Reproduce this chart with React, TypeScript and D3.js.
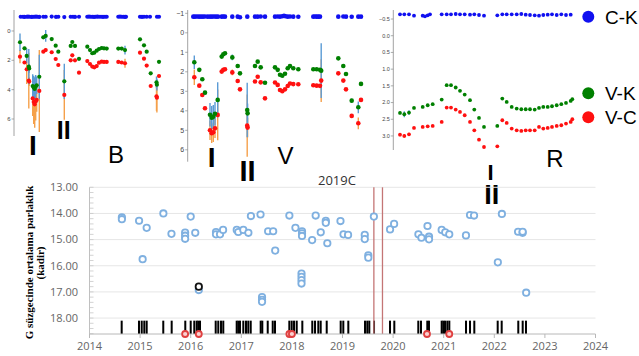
import React from 'react'
import * as d3 from 'd3'

// ---------- top panels: colour indices (mag), time in arbitrary day units ----------
// B band
const bT = [6, 10.5, 12.7, 14.8, 15.2, 18.7, 19.7, 20.7, 21.7, 22.7, 25.3, 29.3, 31.7, 37.7, 41.7, 44.3, 50.3, 56.7, 58.3, 61, 65, 73.3, 76, 78.3, 80.3, 82.7, 85, 87.7, 90, 92.7, 104.3, 107.7, 111, 126, 130, 132.7, 136.7, 142.5, 142.9, 145]
const bVK = [0.77, 1.18, 1.7, 2.43, 2.55, 3.75, 3.85, 3.95, 3.8, 3.7, 3.12, 0.43, 0.34, 0.55, 1.0, 1.41, 3.43, 1.02, 0.75, 1.02, 1.9, 1.07, 1.3, 1.52, 1.48, 1.34, 1.23, 1.16, 1.18, 1.2, 1.2, 1.2, 1.3, 0.57, 0.98, 1.41, 2.89, 3.5, 3.66, 2.1]
const bVC = [1.75, 2.15, 2.61, 3.38, 3.45, 4.6, 4.85, 5.0, 4.8, 4.7, 4.09, 1.41, 1.3, 1.45, 1.91, 2.32, 4.36, 2.0, 1.66, 2.0, 2.84, 2.05, 2.25, 2.43, 2.48, 2.39, 2.16, 2.09, 2.11, 2.11, 2.11, 2.15, 2.2, 1.48, 1.89, 2.36, 3.75, 4.45, 4.55, 3.07]
const bVKerr = [0.6, 0.1, 0.5, 1.2, 0.3, 0.8, 0.8, 0.8, 0.8, 0.6, 1.5, 0.1, 0.4, 0.1, 0.1, 0.1, 1.2, 0.1, 0.1, 0.1, 0.1, 0.1, 0.1, 0.1, 0.1, 0.1, 0.1, 0.1, 0.1, 0.1, 0.1, 0.1, 0.3, 0.1, 0.1, 0.1, 0.1, 0.4, 0.4, 0.1]
const bVCerr = [0.45, 0.1, 1.0, 1.9, 0.3, 1.2, 1.5, 1.6, 1.3, 0.8, 2.8, 0.1, 0.1, 0.1, 0.1, 0.1, 1.7, 0.1, 0.1, 0.1, 0.1, 0.1, 0.1, 0.1, 0.1, 0.1, 0.1, 0.1, 0.1, 0.1, 0.1, 0.1, 0.3, 0.1, 0.1, 0.1, 0.1, 1.0, 1.0, 0.1]
const bCKt = [6.7, 9, 10.5, 12.7, 14, 15.5, 17.5, 19, 20.5, 22, 23.5, 25.3, 29.3, 31.7, 37.7, 42, 44.3, 50.3, 56.7, 59, 61, 65, 73.3, 75, 76.7, 78.3, 80, 81.7, 83.3, 85, 87, 89, 91, 92.7, 104.3, 106, 107.7, 109.3, 111, 112, 126, 128, 130, 132.7, 136, 143, 145]
const bCK = [-0.97, -0.97, -0.96, -0.97, -0.98, -0.97, -0.96, -0.97, -0.97, -0.98, -0.97, -0.96, -0.97, -0.97, -0.98, -0.96, -0.97, -0.95, -0.97, -0.97, -0.96, -0.97, -0.97, -0.98, -0.97, -0.97, -0.96, -0.97, -0.98, -0.97, -0.97, -0.96, -0.97, -0.97, -0.97, -0.98, -0.97, -0.97, -0.96, -0.97, -0.97, -0.96, -0.97, -0.97, -0.97, -0.97, -0.97]

// V band
const vT = [6.6, 11.6, 14.6, 17.3, 22.3, 24, 25.6, 27.3, 30, 34, 35.6, 37.3, 44.6, 50, 52.3, 59.5, 59.9, 67.3, 70, 73, 77.3, 87.3, 90, 92.3, 94.6, 97.3, 100, 102.3, 105.6, 110.6, 125.6, 129, 132.3, 133.5, 150.6, 155.6, 158.3, 164, 170.6, 173.3]
const vVK = [1.51, 1.9, 2.38, 3.07, 4.2, 4.35, 4.3, 4.15, 3.44, 1.22, 1.1, 1.05, 1.26, 1.7, 2.08, 3.96, 4.13, 1.7, 1.48, 1.77, 2.56, 1.77, 1.9, 2.15, 2.2, 2.1, 1.82, 1.7, 1.82, 1.87, 1.87, 1.87, 1.9, 1.94, 1.31, 1.7, 2.11, 3.48, 3.82, 2.62]
const vVC = [2.28, 2.71, 3.19, 3.87, 5.0, 5.15, 5.1, 4.9, 4.21, 1.99, 1.9, 1.87, 2.03, 2.47, 2.9, 4.76, 4.86, 2.5, 2.25, 2.54, 3.36, 2.55, 2.67, 2.93, 3.0, 2.9, 2.73, 2.6, 2.63, 2.64, 2.69, 2.71, 2.72, 2.45, 2.08, 2.45, 2.9, 4.26, 4.64, 3.44]
const vVKerr = [0.35, 0.05, 0.05, 0.1, 0.6, 0.6, 0.6, 0.6, 0.9, 0.05, 0.05, 0.05, 0.15, 0.05, 0.05, 1.4, 0.5, 0.05, 0.05, 0.05, 0.05, 0.05, 0.05, 0.05, 0.05, 0.05, 0.05, 0.05, 0.05, 0.05, 0.05, 0.05, 0.05, 1.4, 0.05, 0.05, 0.05, 0.1, 0.3, 0.05]
const vVCerr = [0.4, 0.05, 0.05, 0.1, 0.5, 0.5, 0.5, 0.5, 1.3, 0.05, 0.05, 0.05, 0.15, 0.05, 0.05, 1.6, 0.5, 0.05, 0.05, 0.05, 0.05, 0.05, 0.05, 0.05, 0.05, 0.05, 0.05, 0.05, 0.05, 0.05, 0.05, 0.05, 0.05, 1.1, 0.05, 0.05, 0.05, 0.1, 0.3, 0.05]
const vCKt = [5.6, 7.3, 9.3, 11.3, 13.3, 15.3, 17.3, 20, 22.3, 24.3, 26.3, 28.3, 30.3, 34, 35.6, 37.3, 44.6, 50, 52.3, 59.6, 67.3, 70, 73, 77.3, 87.3, 90, 92.3, 94.6, 96.3, 97.8, 100, 102.3, 105.6, 110.6, 125.6, 127.3, 129, 130.6, 132.3, 150.6, 155.6, 158.3, 164, 170.6, 173.3]
const vCK = [-0.83, -0.83, -0.84, -0.83, -0.83, -0.83, -0.84, -0.83, -0.83, -0.83, -0.84, -0.83, -0.83, -0.83, -0.84, -0.83, -0.83, -0.83, -0.8, -0.83, -0.83, -0.83, -0.84, -0.83, -0.83, -0.84, -0.83, -0.85, -0.87, -0.85, -0.83, -0.84, -0.83, -0.82, -0.83, -0.84, -0.83, -0.83, -0.83, -0.83, -0.84, -0.83, -0.82, -0.83, -0.83]

// R band
const rT = [6.7, 11, 15.7, 20.7, 29.4, 34.4, 39.4, 48.4, 53.4, 57.7, 62.4, 66.7, 71.4, 76.7, 81, 85.7, 90.7, 104, 109, 113.4, 118.4, 123.4, 128, 132.4, 136.7, 141.4, 145.7, 150, 154.4, 158.7, 163.4, 168, 172.7, 177.4, 179]
const rVK = [2.31, 2.35, 2.3, 2.16, 2.13, 2.08, 2.05, 1.91, 1.48, 1.48, 1.55, 1.65, 1.76, 1.93, 2.21, 2.46, 2.73, 2.7, 1.88, 1.98, 2.13, 2.18, 2.2, 2.2, 2.2, 2.21, 2.16, 2.13, 2.13, 2.11, 2.08, 2.05, 2.01, 1.95, 1.9]
const rVC = [2.96, 3.0, 2.95, 2.76, 2.73, 2.71, 2.7, 2.58, 2.15, 2.15, 2.21, 2.28, 2.38, 2.58, 2.83, 3.11, 3.33, 3.31, 2.53, 2.61, 2.78, 2.83, 2.85, 2.83, 2.83, 2.83, 2.73, 2.78, 2.76, 2.73, 2.7, 2.68, 2.63, 2.58, 2.5]
const rVKerr = [0.04, 0.09, 0.07, 0.03, 0.03, 0.03, 0.03, 0.03, 0.03, 0.03, 0.03, 0.03, 0.03, 0.03, 0.03, 0.03, 0.03, 0.03, 0.03, 0.03, 0.03, 0.03, 0.03, 0.03, 0.03, 0.03, 0.03, 0.03, 0.03, 0.03, 0.03, 0.03, 0.03, 0.03, 0.03]
const rVCerr = [0.05, 0.06, 0.05, 0.03, 0.03, 0.03, 0.03, 0.03, 0.03, 0.03, 0.03, 0.03, 0.03, 0.03, 0.03, 0.03, 0.03, 0.03, 0.03, 0.03, 0.03, 0.03, 0.03, 0.03, 0.03, 0.03, 0.03, 0.03, 0.03, 0.03, 0.03, 0.03, 0.03, 0.03, 0.03]
const rCKt = [6.7, 11, 15.7, 20.7, 29.4, 31.7, 34.4, 36.7, 48.4, 53.4, 57.7, 62.4, 66.7, 71.4, 76.7, 81, 85.7, 90.7, 104, 109, 113.4, 118.4, 123.4, 128, 132.4, 136.7, 141.4, 145.7, 150, 154.4, 158.7, 163.4, 168, 172.7, 177.4]
const rCK = [-0.64, -0.64, -0.64, -0.6, -0.6, -0.58, -0.61, -0.64, -0.64, -0.64, -0.64, -0.65, -0.64, -0.64, -0.63, -0.64, -0.62, -0.6, -0.61, -0.64, -0.64, -0.64, -0.64, -0.65, -0.63, -0.62, -0.61, -0.6, -0.62, -0.63, -0.64, -0.62, -0.64, -0.62, -0.63]

// ---------- bottom: Gaia G light curve ----------
const gYear = [2014.64, 2014.64, 2014.98, 2015.05, 2015.13, 2015.46, 2015.62, 2015.89, 2015.89, 2015.89, 2016.0, 2016.09, 2016.16, 2016.5, 2016.5, 2016.58, 2016.64, 2016.91, 2016.94, 2017.04, 2017.14, 2017.19, 2017.38, 2017.41, 2017.41, 2017.41, 2017.53, 2017.63, 2017.67, 2017.95, 2018.07, 2018.2, 2018.2, 2018.2, 2018.19, 2018.19, 2018.19, 2018.19, 2018.4, 2018.47, 2018.57, 2018.67, 2018.67, 2018.7, 2018.96, 2019.02, 2019.11, 2019.44, 2019.44, 2019.51, 2019.51, 2019.62, 2019.94, 2020.02, 2020.5, 2020.56, 2020.68, 2020.71, 2020.71, 2020.96, 2021.03, 2021.11, 2021.44, 2021.52, 2021.6, 2022.07, 2022.15, 2022.47, 2022.56, 2022.56, 2022.63]
const gMag = [14.15, 14.22, 14.28, 15.75, 14.55, 14.0, 14.78, 14.73, 14.85, 14.97, 14.12, 14.74, 16.93, 14.71, 14.8, 14.8, 14.63, 14.63, 14.71, 14.63, 14.74, 14.1, 14.04, 17.2, 17.3, 17.38, 14.68, 14.68, 15.42, 14.08, 14.55, 14.68, 14.76, 14.86, 16.3, 16.42, 16.55, 16.68, 15.02, 14.08, 14.72, 14.28, 14.36, 15.14, 14.29, 14.8, 14.82, 14.82, 14.98, 15.6, 15.69, 14.12, 14.61, 14.4, 14.8, 14.93, 14.48, 14.89, 14.99, 14.63, 14.72, 14.8, 14.84, 14.06, 14.08, 15.87, 14.02, 14.7, 14.74, 14.7, 17.03]
const flagYear = [2016.16]
const flagMag = [16.8]
const obsYear = [2014.636, 2014.978, 2015.032, 2015.083, 2015.13, 2015.458, 2015.624, 2015.893, 2016.0, 2016.071, 2016.119, 2016.15, 2016.184, 2016.494, 2016.545, 2016.599, 2016.644, 2016.909, 2016.941, 2016.974, 2017.04, 2017.093, 2017.138, 2017.186, 2017.383, 2017.415, 2017.522, 2017.621, 2017.666, 2017.949, 2017.996, 2018.042, 2018.095, 2018.206, 2018.403, 2018.457, 2018.522, 2018.569, 2018.688, 2018.964, 2019.016, 2019.115, 2019.445, 2019.49, 2019.53, 2019.623, 2019.939, 2020.024, 2020.498, 2020.551, 2020.676, 2020.709, 2020.96, 2020.992, 2021.026, 2021.071, 2021.111, 2021.441, 2021.52, 2021.605, 2022.067, 2022.146, 2022.474, 2022.561, 2022.626]
const alertYear = [2015.89, 2016.16, 2017.95, 2018.0, 2020.67, 2021.11]
const spectraYear = [2019.62, 2019.79]
const gYearTicks = d3.range(2014, 2025)
const gMagTicks = [13, 14, 15, 16, 17, 18]

const BLUE = '#1010f0', GREEN = '#008000', RED = '#ff1010'
const EBLUE = '#5b9bd5', EORANGE = '#f5a04a'
const SANS = '"Liberation Sans", Arial, sans-serif'

function Panel({ xs, ys, ticks, fmt, fs, t, vk, vc, vkErr, vcErr, ckT, ck, r }) {
  const ax = xs.range()[0]
  return (
    <g>
      <line x1={ax} x2={ax} y1={ys.range()[0]} y2={ys.range()[1]} stroke="#8a8a8a" strokeWidth={0.8} />
      {ticks.map(v => (
        <g key={v}>
          <line x1={ax - 2.5} x2={ax} y1={ys(v)} y2={ys(v)} stroke="#8a8a8a" strokeWidth={0.7} />
          <text x={ax - 3.5} y={ys(v)} dy="0.35em" textAnchor="end" fontSize={fs} fill="#444" fontFamily={SANS}>{fmt(v)}</text>
        </g>
      ))}
      {t.map((d, i) => (
        <line key={'eo' + i} x1={xs(d)} x2={xs(d)} y1={ys(vc[i] - vcErr[i])} y2={ys(vc[i] + vcErr[i])} stroke={EORANGE} strokeWidth={1.4} />
      ))}
      {t.map((d, i) => (
        <line key={'eb' + i} x1={xs(d)} x2={xs(d)} y1={ys(vk[i] - vkErr[i])} y2={ys(vk[i] + vkErr[i])} stroke={EBLUE} strokeWidth={1.4} />
      ))}
      {ckT.map((d, i) => <circle key={'c' + i} cx={xs(d)} cy={ys(ck[i])} r={r} fill={BLUE} />)}
      {t.map((d, i) => <circle key={'r' + i} cx={xs(d)} cy={ys(vc[i])} r={r} fill={RED} />)}
      {t.map((d, i) => <circle key={'g' + i} cx={xs(d)} cy={ys(vk[i])} r={r} fill={GREEN} />)}
    </g>
  )
}

function Big({ x, y, text, size, bold }) {
  return (
    <text x={x} y={y} textAnchor="middle" fontSize={size} fontWeight={bold ? 'bold' : 'normal'} fontFamily={SANS} fill="#000">{text}</text>
  )
}

export default function App() {
  const xB = d3.scaleLinear().domain([0, 150]).range([14, 164])
  const yB = d3.scaleLinear().domain([-1.43, 7.16]).range([10, 136])
  const xV = d3.scaleLinear().domain([0, 176]).range([187.7, 363.7])
  const yV = d3.scaleLinear().domain([-1.17, 6.61]).range([10, 161.7])
  const xR = d3.scaleLinear().domain([0, 182]).range([393.3, 575.3])
  const yR = d3.scaleLinear().domain([-0.77, 3.42]).range([10, 150])

  const xG = d3.scaleLinear().domain([2014, 2024]).range([89.5, 595.5])
  const yG = d3.scaleLinear().domain([13, 18.61]).range([187.3, 334])
  const [gx0, gx1] = xG.range()
  const [gy0, gy1] = yG.range()
  const minor = d3.range(13, 18.6, 0.2)
  const f2 = d3.format('.2f')

  return (
    <svg width={639} height={356} style={{ position: 'absolute', left: 0, top: 0, background: '#fff' }}>
      <rect width={639} height={356} fill="#fff" />

      <Panel xs={xB} ys={yB} ticks={[0, 2, 4, 6]} fmt={d3.format('d')} fs={6} t={bT} vk={bVK} vc={bVC} vkErr={bVKerr} vcErr={bVCerr} ckT={bCKt} ck={bCK} r={2.1} />
      <Panel xs={xV} ys={yV} ticks={d3.range(-1, 7)} fmt={d3.format('d')} fs={7} t={vT} vk={vVK} vc={vVC} vkErr={vVKerr} vcErr={vVCerr} ckT={vCKt} ck={vCK} r={2.3} />
      <Panel xs={xR} ys={yR} ticks={d3.range(-0.5, 3.01, 0.5)} fmt={d3.format('.1f')} fs={5.5} t={rT} vk={rVK} vc={rVC} vkErr={rVKerr} vcErr={rVCerr} ckT={rCKt} ck={rCK} r={1.9} />

      {/* legend */}
      <circle cx={588.3} cy={16.7} r={6} fill={BLUE} />
      <text x={605} y={23.5} fontSize={19} fontFamily={SANS}>C-K</text>
      <circle cx={588.3} cy={93.3} r={6} fill={GREEN} />
      <text x={605} y={100} fontSize={19} fontFamily={SANS}>V-K</text>
      <circle cx={588.3} cy={117.3} r={6} fill={RED} />
      <text x={605} y={124} fontSize={19} fontFamily={SANS}>V-C</text>

      {/* panel annotations */}
      <Big x={33} y={155} text="I" size={28} bold />
      <Big x={63.7} y={139.3} text="II" size={25} bold />
      <Big x={116} y={163} text="B" size={24} />
      <Big x={211.7} y={166.7} text="I" size={28} bold />
      <Big x={247.5} y={181} text="II" size={29} bold />
      <Big x={285.5} y={164} text="V" size={24} />
      <text textAnchor="middle" fontWeight="bold" fontFamily={SANS} fill="#000">
        <tspan x={490.5} y={179.5} fontSize={22}>I</tspan>
        <tspan x={491.7} y={203.5} fontSize={27}>II</tspan>
      </text>
      <Big x={555} y={166.7} text="R" size={24} />

      {/* bottom chart */}
      {gMagTicks.map(v => (
        <line key={'gl' + v} x1={gx0} x2={gx1} y1={yG(v)} y2={yG(v)} stroke="#e6e6e6" strokeWidth={1} />
      ))}
      {minor.map((v, i) => (
        <line key={'mn' + i} x1={gx0} x2={gx0 + 4} y1={yG(v)} y2={yG(v)} stroke="#c8c8c8" strokeWidth={0.8} />
      ))}
      <line x1={gx0} x2={gx0} y1={gy0} y2={gy1} stroke="#c0c0c0" />
      {gMagTicks.map(v => (
        <text key={'gt' + v} x={78} y={yG(v)} dy="0.35em" textAnchor="end" fontSize={11} fill="#666" fontFamily='"Open Sans", sans-serif'>{f2(v)}</text>
      ))}
      {obsYear.map((d, i) => (
        <rect key={'ob' + i} x={xG(d) - 1} y={yG(18.1)} width={2} height={gy1 - yG(18.1)} fill="#000" />
      ))}
      {spectraYear.map((d, i) => (
        <line key={'sp' + i} x1={xG(d)} x2={xG(d)} y1={yG(13)} y2={gy1} stroke="#c47575" strokeWidth={1.3} />
      ))}
      <line x1={gx0} x2={gx1} y1={gy1} y2={gy1} stroke="#b8b8b8" />
      {gYearTicks.map(v => (
        <g key={'xt' + v}>
          <line x1={xG(v)} x2={xG(v)} y1={gy1} y2={gy1 + 4} stroke="#b8b8b8" />
          <text x={xG(v)} y={350} textAnchor="middle" fontSize={11} fill="#666" fontFamily='"Open Sans", sans-serif'>{v}</text>
        </g>
      ))}
      {gYear.map((d, i) => (
        <circle key={'gp' + i} cx={xG(d)} cy={yG(gMag[i])} r={3.2} fill="#fff" stroke="#7fb0e0" strokeWidth={1.8} />
      ))}
      {flagYear.map((d, i) => (
        <circle key={'fl' + i} cx={xG(d)} cy={yG(flagMag[i])} r={3.2} fill="#fff" stroke="#111" strokeWidth={1.8} />
      ))}
      {alertYear.map((d, i) => (
        <circle key={'al' + i} cx={xG(d)} cy={gy1} r={3} fill="#fbd0d0" stroke="#e04040" strokeWidth={1.8} />
      ))}
      <text x={318} y={185} fontSize={13} fill="#333" fontFamily='"Open Sans", sans-serif'>2019C</text>

      <g transform="translate(33,262.5) rotate(-90)">
        <text textAnchor="middle" fontSize={11} fontWeight="bold" fontFamily='"Liberation Serif", "Times New Roman", serif'>G süzgecinde ortalama parlaklık</text>
      </g>
      <g transform="translate(43.5,263) rotate(-90)">
        <text textAnchor="middle" fontSize={11} fontWeight="bold" fontFamily='"Liberation Serif", "Times New Roman", serif'>(kadir)</text>
      </g>
    </svg>
  )
}
